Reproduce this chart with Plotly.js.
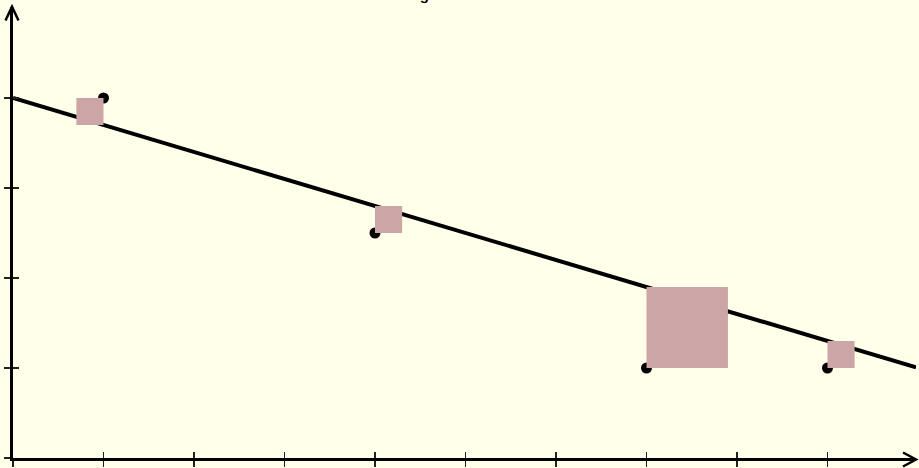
<!DOCTYPE html>
<html>
<head>
<meta charset="utf-8">
<script src="https://cdn.plot.ly/plotly-3.0.1.min.js"></script>
<style>
  html, body { margin: 0; padding: 0; background: #ffffea; }
  #chart { width: 919px; height: 468px; }
</style>
</head>
<body>
<div id="chart"></div>
<script>
// Observations
const pointX = [1, 4, 7, 9];
const pointY = [4, 2.5, 1, 1];

// Fitted line y = intercept + slope * x
const fitIntercept = 4;
const fitSlope = -0.3;

// Axis ticks
const xTicks = [0, 1, 2, 3, 4, 5, 6, 7, 8, 9];
const yTicks = [0, 1, 2, 3, 4];

const xRange = [0, 9.978];
const yRange = [0, 5.011];

const BG = '#ffffea';
const SQUARE = '#cca5a7';

const fitX = xRange.slice();
const fitY = fitX.map(x => fitIntercept + fitSlope * x);

const traces = [
  {
    x: fitX, y: fitY, type: 'scatter', mode: 'lines',
    line: { color: '#000', width: 4 }, hoverinfo: 'skip'
  },
  {
    x: pointX, y: pointY, type: 'scatter', mode: 'markers',
    marker: { color: '#000', size: 11 }, cliponaxis: false
  }
];

// Square of each residual, one corner on the observation, reaching toward the line
pointX.forEach((px, i) => {
  const py = pointY[i];
  const r = py - (fitIntercept + fitSlope * px);
  traces.push({
    x: [px, px - r, px - r, px, px],
    y: [py, py, py - r, py - r, py],
    type: 'scatter', mode: 'lines', fill: 'toself',
    fillcolor: SQUARE, line: { width: 0, color: SQUARE },
    xaxis: 'x2', yaxis: 'y2', hoverinfo: 'skip'
  });
});

const tickStyle = { ticklen: 6, tickwidth: 1.5, tickcolor: '#222' };

const layout = {
  width: 919, height: 468,
  margin: { l: 13, r: 3, t: 7, b: 10 },
  paper_bgcolor: BG, plot_bgcolor: BG,
  showlegend: false,
  title: {
    text: 'Fitting the line',
    font: { family: 'Liberation Sans, Arial, sans-serif', size: 15, color: '#000', weight: 'bold' },
    xref: 'container', x: 383 / 919, xanchor: 'left',
    yref: 'container', y: 1, yanchor: 'bottom'
  },
  xaxis: Object.assign({
    range: xRange, autorange: false, tickmode: 'array', tickvals: xTicks,
    showticklabels: false, ticks: 'outside', showgrid: false, zeroline: false,
    showline: true, linecolor: '#000', linewidth: 3
  }, tickStyle),
  yaxis: Object.assign({
    range: yRange, autorange: false, tickmode: 'array', tickvals: yTicks,
    showticklabels: false, ticks: 'outside', showgrid: false, zeroline: false,
    showline: true, linecolor: '#000', linewidth: 3
  }, tickStyle),
  xaxis2: Object.assign({
    overlaying: 'x', anchor: 'y2', side: 'bottom',
    range: xRange, autorange: false, tickmode: 'array', tickvals: xTicks,
    showticklabels: false, ticks: 'inside', showgrid: false, zeroline: false, showline: false
  }, tickStyle),
  yaxis2: Object.assign({
    overlaying: 'y', anchor: 'x2', side: 'left',
    range: yRange, autorange: false, tickmode: 'array', tickvals: yTicks,
    showticklabels: false, ticks: 'inside', showgrid: false, zeroline: false, showline: false
  }, tickStyle),
  shapes: [
    // arrow head at the end of the x axis
    {
      type: 'path', layer: 'above',
      xref: 'paper', yref: 'paper', xsizemode: 'pixel', ysizemode: 'pixel',
      xanchor: 1, yanchor: 0,
      path: 'M-13,5.5 L0,-1.5 L-13,-8.5',
      line: { color: '#000', width: 2.5 }
    },
    // arrow head at the top of the y axis
    {
      type: 'path', layer: 'above',
      xref: 'paper', yref: 'paper', xsizemode: 'pixel', ysizemode: 'pixel',
      xanchor: 0, yanchor: 1,
      path: 'M-7.5,-13.5 L-1,0.3 L5.5,-13.5',
      line: { color: '#000', width: 2.5 }
    }
  ]
};

Plotly.newPlot('chart', traces, layout, { displayModeBar: false, staticPlot: true });
</script>
</body>
</html>
